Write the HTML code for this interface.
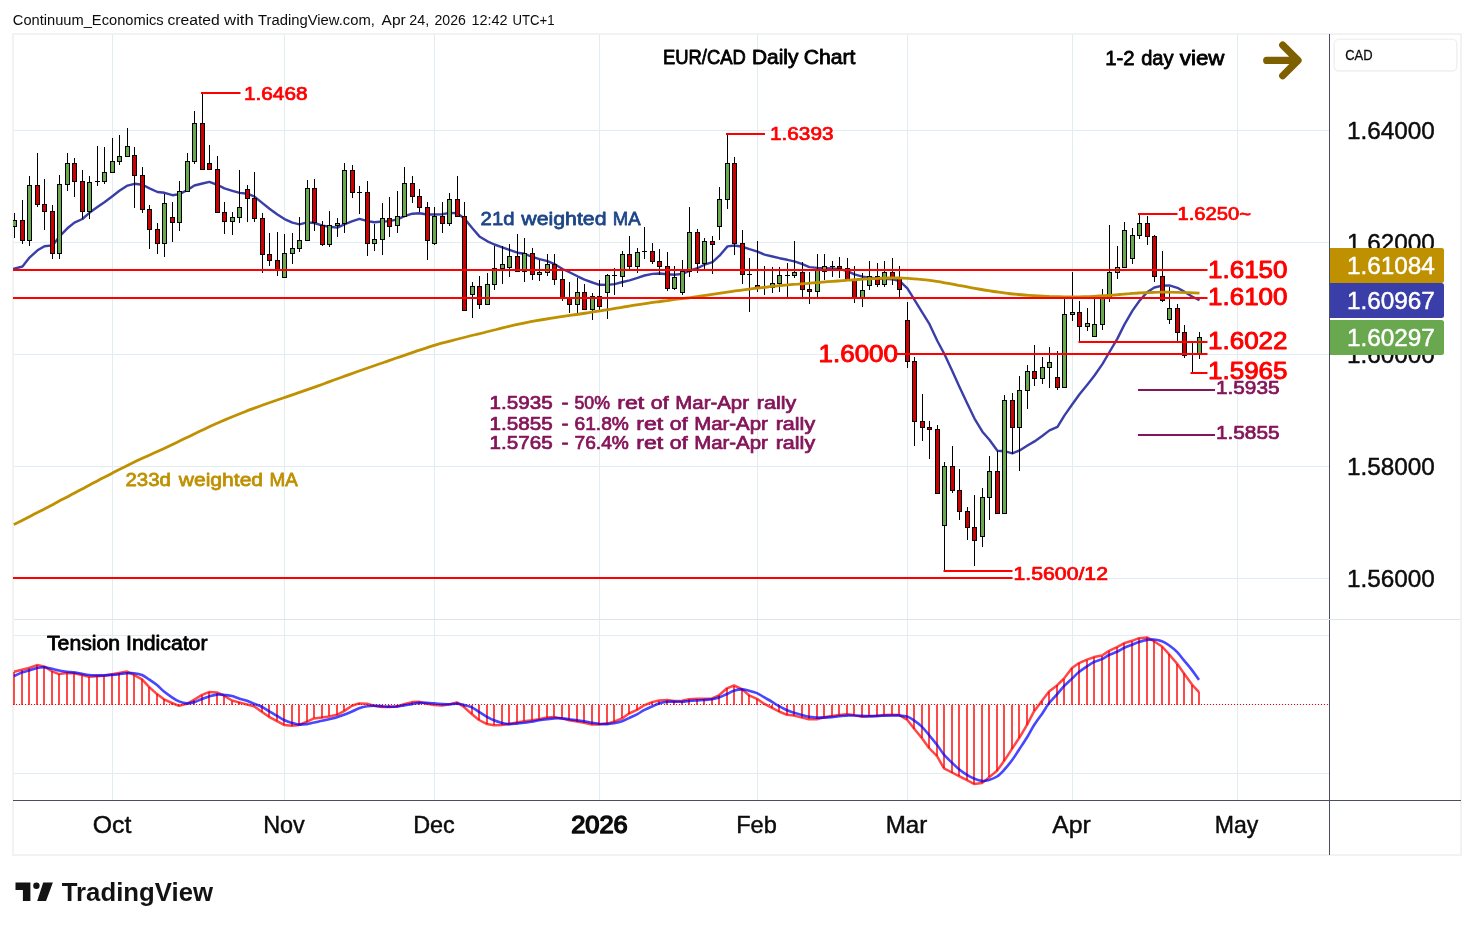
<!DOCTYPE html>
<html lang="en"><head><meta charset="utf-8"><title>EUR/CAD Daily Chart</title>
<style>html,body{margin:0;padding:0;background:#fff}body{width:1474px;height:930px;overflow:hidden}svg{display:block}text{font-family:'Liberation Sans', Arial, sans-serif}</style>
</head><body>
<svg width="1474" height="930" viewBox="0 0 1474 930">
<rect width="1474" height="930" fill="#fff"/>
<text y="24.6" font-size="14.9" fill="#0c0c0c"><tspan x="12.8" textLength="150.8" lengthAdjust="spacingAndGlyphs">Continuum_Economics</tspan> <tspan x="167.5" textLength="52.3" lengthAdjust="spacingAndGlyphs">created</tspan> <tspan x="224.1" textLength="29.7" lengthAdjust="spacingAndGlyphs">with</tspan> <tspan x="258.1" textLength="116.8" lengthAdjust="spacingAndGlyphs">TradingView.com,</tspan> <tspan x="381.6" textLength="24.2" lengthAdjust="spacingAndGlyphs">Apr</tspan> <tspan x="409.3" textLength="19.9" lengthAdjust="spacingAndGlyphs">24,</tspan> <tspan x="434.5" textLength="31.4" lengthAdjust="spacingAndGlyphs">2026</tspan> <tspan x="471.4" textLength="36.2" lengthAdjust="spacingAndGlyphs">12:42</tspan> <tspan x="512.5" textLength="42.1" lengthAdjust="spacingAndGlyphs">UTC+1</tspan></text>
<g fill="none" stroke="#f2f2f3" stroke-width="2">
<rect x="13" y="34" width="1448" height="821"/>
</g>
<g stroke="#e1ecf3" stroke-width="1" shape-rendering="crispEdges">
<line x1="112.5" y1="35" x2="112.5" y2="619"/>
<line x1="112.5" y1="620" x2="112.5" y2="800"/>
<line x1="284.5" y1="35" x2="284.5" y2="619"/>
<line x1="284.5" y1="620" x2="284.5" y2="800"/>
<line x1="434.5" y1="35" x2="434.5" y2="619"/>
<line x1="434.5" y1="620" x2="434.5" y2="800"/>
<line x1="599.5" y1="35" x2="599.5" y2="619"/>
<line x1="599.5" y1="620" x2="599.5" y2="800"/>
<line x1="757.5" y1="35" x2="757.5" y2="619"/>
<line x1="757.5" y1="620" x2="757.5" y2="800"/>
<line x1="907.5" y1="35" x2="907.5" y2="619"/>
<line x1="907.5" y1="620" x2="907.5" y2="800"/>
<line x1="1072.5" y1="35" x2="1072.5" y2="619"/>
<line x1="1072.5" y1="620" x2="1072.5" y2="800"/>
<line x1="1237.5" y1="35" x2="1237.5" y2="619"/>
<line x1="1237.5" y1="620" x2="1237.5" y2="800"/>
<line x1="14" y1="130.5" x2="1329" y2="130.5"/>
<line x1="14" y1="242.5" x2="1329" y2="242.5"/>
<line x1="14" y1="354.5" x2="1329" y2="354.5"/>
<line x1="14" y1="466.5" x2="1329" y2="466.5"/>
<line x1="14" y1="578.5" x2="1329" y2="578.5"/>
<line x1="14" y1="635.5" x2="1329" y2="635.5"/>
<line x1="14" y1="773.5" x2="1329" y2="773.5"/>
</g>
<defs><clipPath id="cp"><rect x="13" y="35" width="1316" height="765"/></clipPath></defs>
<g clip-path="url(#cp)">
<path d="M12.9 269 L22.5 266.5 L29.5 257.6 L37.5 250.3 L44.5 246.2 L52.5 245.4 L59.5 236.4 L67.4 228.3 L74.4 222.6 L82.4 219 L89.4 212.8 L97.4 207.1 L104.4 202.2 L112.4 196.2 L119.4 190.8 L127.5 185.6 L134.5 183.8 L142.5 184.8 L149.5 188.4 L157.5 192 L164.5 192.8 L172.5 195.2 L179.5 194.1 L187.4 190 L194.4 185.5 L202.4 183.5 L209.4 181.9 L217.4 184.8 L224.4 188.4 L232.4 190.8 L239.7 192.9 L247.5 193.7 L254.5 196.6 L262.5 203.1 L269.5 208.8 L277.4 214.5 L284.5 219.1 L292.4 222.7 L299.4 224.3 L307.4 222.4 L314.4 223 L322.6 225.6 L329.4 226.8 L337.4 227.6 L344.4 224.3 L352.5 221.1 L359.5 218.9 L367.5 221.1 L374.5 222.2 L382.5 221.5 L389.5 221.1 L397.4 219.4 L404.5 216.2 L412.4 213.7 L419.4 213.2 L427.4 214.5 L434.4 214.5 L442.4 214.2 L449.4 212.9 L457.4 213.2 L464.4 218.6 L472.4 228.3 L479.4 236.4 L487.4 241.3 L494.4 244.5 L502.4 247.3 L509.4 249.9 L517.4 252.7 L524.4 253.8 L532.4 256.8 L539.5 259.2 L547.5 261.2 L554.5 264.1 L562.5 269 L569.5 272.2 L577.5 276.3 L584.5 279.6 L592.4 282.5 L599.4 284.8 L607.6 284.9 L614.6 284.1 L622.6 282 L629.6 280.4 L637.5 277.9 L644.5 275.5 L652.5 273.9 L659.5 273.5 L667.5 274.3 L674.5 274.7 L682.5 273.9 L689.5 270.6 L697.5 268.2 L704.4 264.7 L712.5 262.2 L719.5 255.7 L727.5 246.4 L734.5 245.5 L742.5 246.8 L749.5 249.2 L757.5 251.6 L764.5 254.6 L772.5 256.5 L779.5 258.2 L787.4 259.8 L794.4 261.4 L802.4 264.2 L809.4 267.1 L817.4 267.9 L824.6 268.2 L832.5 268.4 L839.5 269.1 L847.5 271.2 L854.5 274.4 L862.5 276.6 L869.5 277.7 L877.5 278.5 L884.5 278.8 L892.5 279.3 L899.5 280.9 L907.4 288.3 L914.5 299.8 L922.5 312.8 L929.5 324.2 L937.5 341.3 L944.5 354.3 L952.5 371.4 L959.5 386.9 L967.5 404 L974.5 418.6 L982.4 431.7 L989.4 439.8 L997.4 450.8 L1004.4 451.2 L1012.4 453.3 L1019.6 450.4 L1027.5 445.5 L1034.5 441.4 L1042.5 435.7 L1049.5 430.4 L1057.5 426.8 L1064.5 415.4 L1072.5 404 L1079.5 394.2 L1087.5 384.4 L1094.5 375.5 L1102.4 364.1 L1109.5 352 L1117.4 338.6 L1124.5 324.4 L1132.5 310.6 L1139.5 300.8 L1147.4 291.9 L1154.4 287.5 L1162.4 285.7 L1169.4 285.4 L1177.4 287.8 L1184.6 291.9 L1192.5 296.8 L1199.5 300.3" fill="none" stroke="#3a3ea8" stroke-width="2.4" stroke-linejoin="round" stroke-linecap="butt"/>
<path d="M14.5 213V238M22.5 200V244M29.5 176V246M37.5 153V207M44.5 179V230M52.5 205V259M59.5 175V259M67.5 153V191M74.5 158V197M82.5 170V219M89.5 176V219M97.5 146V186M104.5 147V184M112.5 138V173M119.5 135V165M127.5 128V157M134.5 147V208M142.5 167V213M149.5 205V249M157.5 223V254M164.5 194V257M172.5 202V242M179.5 181V231M187.5 153V192M194.5 111V164M202.5 93V170M209.5 145V170M217.5 156V213M224.5 202V234M232.5 212V235M239.5 170V223M247.5 185V222M254.5 172V222M262.5 213V273M269.5 233V266M277.5 232V276M284.5 234V278M292.5 233V264M299.5 217V252M307.5 180V241M314.5 179V231M322.5 221V246M329.5 211V247M337.5 218V237M344.5 163V233M352.5 165V198M359.5 186V214M367.5 181V256M374.5 224V251M382.5 203V255M389.5 197V237M397.5 191V233M404.5 167V217M412.5 176V203M419.5 189V212M427.5 202V260M434.5 207V245M442.5 202V233M449.5 193V226M457.5 176V217M464.5 202V311M472.5 282V318M479.5 276V309M487.5 273V305M494.5 246V290M502.5 246V284M509.5 244V277M517.5 234V272M524.5 238V282M532.5 248V280M539.5 260V281M547.5 254V276M554.5 254V285M562.5 270V301M569.5 282V313M577.5 278V314M584.5 284V310M592.5 293V320M599.5 280V311M607.5 274V319M614.5 268V295M622.5 251V287M629.5 236V271M637.5 248V273M644.5 227V259M652.5 243V264M659.5 249V275M667.5 252V291M674.5 266V290M682.5 260V295M689.5 207V277M697.5 229V273M704.5 238V269M712.5 236V274M719.5 187V240M727.5 134V209M734.5 157V255M742.5 230V284M749.5 258V312M757.5 241V292M764.5 266V295M772.5 267V293M779.5 267V292M787.5 263V298M794.5 241V278M802.5 262V298M809.5 272V304M817.5 254V298M824.5 254V280M832.5 261V277M839.5 257V278M847.5 258V280M854.5 266V303M862.5 273V307M869.5 261V290M877.5 263V287M884.5 261V287M892.5 258V285M899.5 266V298M907.5 302V368M914.5 357V446M922.5 394V441M929.5 421V459M937.5 425V494M944.5 462V570M952.5 446V493M959.5 469V520M967.5 507V540M974.5 495V566M982.5 488V547M989.5 456V520M997.5 451V514M1004.5 395V514M1012.5 393V454M1019.5 376V471M1027.5 365V409M1034.5 345V386M1042.5 357V384M1049.5 347V388M1057.5 351V390M1064.5 299V388M1072.5 272V321M1079.5 301V341M1087.5 308V331M1094.5 299V337M1102.5 289V330M1109.5 225V302M1117.5 246V279M1124.5 222V268M1132.5 228V264M1139.5 214V239M1147.5 216V245M1154.5 235V282M1162.5 251V302M1169.5 287V324M1177.5 304V341M1184.5 325V358M1192.5 342V372M1199.5 332V359" stroke="#000" stroke-width="1" fill="none" shape-rendering="crispEdges"/>
<g fill="#6aa84f" stroke="#000" stroke-width="1" shape-rendering="crispEdges">
<rect x="12.5" y="220.5" width="4" height="6"/>
<rect x="27.5" y="185.5" width="4" height="55"/>
<rect x="57.5" y="184.5" width="4" height="69"/>
<rect x="65.5" y="163.5" width="4" height="21"/>
<rect x="87.5" y="182.5" width="4" height="29"/>
<rect x="102.5" y="172.5" width="4" height="9"/>
<rect x="110.5" y="161.5" width="4" height="11"/>
<rect x="117.5" y="156.5" width="4" height="5"/>
<rect x="125.5" y="146.5" width="4" height="10"/>
<rect x="162.5" y="203.5" width="4" height="40"/>
<rect x="177.5" y="191.5" width="4" height="31"/>
<rect x="185.5" y="161.5" width="4" height="30"/>
<rect x="192.5" y="123.5" width="4" height="38"/>
<rect x="230.5" y="217.5" width="4" height="4"/>
<rect x="237.5" y="207.5" width="4" height="10"/>
<rect x="282.5" y="253.5" width="4" height="24"/>
<rect x="290.5" y="248.5" width="4" height="5"/>
<rect x="297.5" y="240.5" width="4" height="8"/>
<rect x="305.5" y="188.5" width="4" height="52"/>
<rect x="327.5" y="225.5" width="4" height="19"/>
<rect x="335.5" y="223.5" width="4" height="2"/>
<rect x="342.5" y="170.5" width="4" height="53"/>
<rect x="372.5" y="239.5" width="4" height="4"/>
<rect x="380.5" y="218.5" width="4" height="21"/>
<rect x="395.5" y="216.5" width="4" height="9"/>
<rect x="402.5" y="183.5" width="4" height="33"/>
<rect x="432.5" y="216.5" width="4" height="27"/>
<rect x="447.5" y="199.5" width="4" height="24"/>
<rect x="470.5" y="286.5" width="4" height="8"/>
<rect x="485.5" y="284.5" width="4" height="20"/>
<rect x="492.5" y="268.5" width="4" height="16"/>
<rect x="500.5" y="264.5" width="4" height="4"/>
<rect x="507.5" y="256.5" width="4" height="11"/>
<rect x="522.5" y="253.5" width="4" height="18"/>
<rect x="537.5" y="272.5" width="4" height="2"/>
<rect x="545.5" y="264.5" width="4" height="8"/>
<rect x="575.5" y="292.5" width="4" height="12"/>
<rect x="590.5" y="296.5" width="4" height="13"/>
<rect x="605.5" y="275.5" width="4" height="17"/>
<rect x="620.5" y="254.5" width="4" height="22"/>
<rect x="635.5" y="252.5" width="4" height="14"/>
<rect x="672.5" y="277.5" width="4" height="11"/>
<rect x="680.5" y="271.5" width="4" height="21"/>
<rect x="687.5" y="232.5" width="4" height="39"/>
<rect x="702.5" y="241.5" width="4" height="22"/>
<rect x="717.5" y="199.5" width="4" height="27"/>
<rect x="725.5" y="163.5" width="4" height="36"/>
<rect x="770.5" y="283.5" width="4" height="4"/>
<rect x="777.5" y="275.5" width="4" height="8"/>
<rect x="792.5" y="272.5" width="4" height="3"/>
<rect x="815.5" y="270.5" width="4" height="21"/>
<rect x="822.5" y="266.5" width="4" height="5"/>
<rect x="860.5" y="290.5" width="4" height="7"/>
<rect x="867.5" y="276.5" width="4" height="9"/>
<rect x="882.5" y="272.5" width="4" height="12"/>
<rect x="942.5" y="466.5" width="4" height="59"/>
<rect x="980.5" y="497.5" width="4" height="39"/>
<rect x="987.5" y="471.5" width="4" height="26"/>
<rect x="1002.5" y="400.5" width="4" height="113"/>
<rect x="1017.5" y="390.5" width="4" height="37"/>
<rect x="1025.5" y="371.5" width="4" height="19"/>
<rect x="1040.5" y="367.5" width="4" height="11"/>
<rect x="1047.5" y="362.5" width="4" height="5"/>
<rect x="1062.5" y="314.5" width="4" height="73"/>
<rect x="1070.5" y="312.5" width="4" height="2"/>
<rect x="1085.5" y="323.5" width="4" height="3"/>
<rect x="1092.5" y="324.5" width="4" height="12"/>
<rect x="1100.5" y="297.5" width="4" height="27"/>
<rect x="1107.5" y="272.5" width="4" height="25"/>
<rect x="1115.5" y="267.5" width="4" height="5"/>
<rect x="1122.5" y="230.5" width="4" height="37"/>
<rect x="1130.5" y="235.5" width="4" height="23"/>
<rect x="1137.5" y="223.5" width="4" height="12"/>
<rect x="1167.5" y="308.5" width="4" height="11"/>
<rect x="1197.5" y="337.5" width="4" height="16"/>
</g>
<g fill="#cc0000" stroke="#000" stroke-width="1" shape-rendering="crispEdges">
<rect x="20.5" y="220.5" width="4" height="20"/>
<rect x="35.5" y="185.5" width="4" height="19"/>
<rect x="42.5" y="204.5" width="4" height="7"/>
<rect x="50.5" y="211.5" width="4" height="42"/>
<rect x="72.5" y="163.5" width="4" height="18"/>
<rect x="80.5" y="181.5" width="4" height="30"/>
<rect x="132.5" y="155.5" width="4" height="20"/>
<rect x="140.5" y="175.5" width="4" height="34"/>
<rect x="147.5" y="209.5" width="4" height="20"/>
<rect x="155.5" y="229.5" width="4" height="14"/>
<rect x="170.5" y="217.5" width="4" height="5"/>
<rect x="200.5" y="123.5" width="4" height="46"/>
<rect x="207.5" y="163.5" width="4" height="6"/>
<rect x="215.5" y="169.5" width="4" height="43"/>
<rect x="222.5" y="212.5" width="4" height="9"/>
<rect x="245.5" y="189.5" width="4" height="9"/>
<rect x="252.5" y="198.5" width="4" height="20"/>
<rect x="260.5" y="218.5" width="4" height="36"/>
<rect x="267.5" y="254.5" width="4" height="6"/>
<rect x="275.5" y="260.5" width="4" height="9"/>
<rect x="312.5" y="188.5" width="4" height="34"/>
<rect x="320.5" y="225.5" width="4" height="19"/>
<rect x="350.5" y="170.5" width="4" height="22"/>
<rect x="365.5" y="192.5" width="4" height="51"/>
<rect x="387.5" y="218.5" width="4" height="8"/>
<rect x="410.5" y="183.5" width="4" height="13"/>
<rect x="417.5" y="196.5" width="4" height="11"/>
<rect x="425.5" y="207.5" width="4" height="33"/>
<rect x="440.5" y="216.5" width="4" height="7"/>
<rect x="455.5" y="199.5" width="4" height="17"/>
<rect x="462.5" y="216.5" width="4" height="94"/>
<rect x="477.5" y="286.5" width="4" height="18"/>
<rect x="515.5" y="256.5" width="4" height="15"/>
<rect x="530.5" y="253.5" width="4" height="21"/>
<rect x="552.5" y="264.5" width="4" height="15"/>
<rect x="560.5" y="279.5" width="4" height="18"/>
<rect x="567.5" y="297.5" width="4" height="7"/>
<rect x="582.5" y="292.5" width="4" height="17"/>
<rect x="597.5" y="296.5" width="4" height="10"/>
<rect x="627.5" y="254.5" width="4" height="12"/>
<rect x="650.5" y="251.5" width="4" height="10"/>
<rect x="657.5" y="261.5" width="4" height="5"/>
<rect x="665.5" y="266.5" width="4" height="22"/>
<rect x="695.5" y="232.5" width="4" height="31"/>
<rect x="710.5" y="241.5" width="4" height="3"/>
<rect x="732.5" y="163.5" width="4" height="80"/>
<rect x="740.5" y="243.5" width="4" height="31"/>
<rect x="755.5" y="285.5" width="4" height="2"/>
<rect x="800.5" y="272.5" width="4" height="17"/>
<rect x="807.5" y="289.5" width="4" height="2"/>
<rect x="837.5" y="266.5" width="4" height="2"/>
<rect x="845.5" y="268.5" width="4" height="11"/>
<rect x="852.5" y="279.5" width="4" height="18"/>
<rect x="875.5" y="276.5" width="4" height="8"/>
<rect x="890.5" y="272.5" width="4" height="5"/>
<rect x="897.5" y="277.5" width="4" height="12"/>
<rect x="905.5" y="320.5" width="4" height="41"/>
<rect x="912.5" y="361.5" width="4" height="60"/>
<rect x="920.5" y="421.5" width="4" height="6"/>
<rect x="927.5" y="427.5" width="4" height="2"/>
<rect x="935.5" y="429.5" width="4" height="64"/>
<rect x="950.5" y="466.5" width="4" height="24"/>
<rect x="957.5" y="490.5" width="4" height="21"/>
<rect x="965.5" y="511.5" width="4" height="16"/>
<rect x="972.5" y="527.5" width="4" height="13"/>
<rect x="995.5" y="471.5" width="4" height="42"/>
<rect x="1010.5" y="400.5" width="4" height="27"/>
<rect x="1032.5" y="371.5" width="4" height="7"/>
<rect x="1055.5" y="377.5" width="4" height="10"/>
<rect x="1077.5" y="312.5" width="4" height="14"/>
<rect x="1145.5" y="223.5" width="4" height="13"/>
<rect x="1152.5" y="236.5" width="4" height="40"/>
<rect x="1160.5" y="276.5" width="4" height="24"/>
<rect x="1175.5" y="308.5" width="4" height="24"/>
<rect x="1182.5" y="332.5" width="4" height="23"/>
</g>
<path d="M95 181.5H100M357 192.5H362M612 275.5H617M642 251.5H647M747 274.5H752M762 287.5H767M785 275.5H790M830 266.5H835M1190 354.5H1195" stroke="#000" stroke-width="1" fill="none" shape-rendering="crispEdges"/>
<path d="M13.8 524.6C15.5 523.7 20.5 521.2 23.9 519.5C27.2 517.8 30.6 516.1 33.9 514.3C37.3 512.6 40.6 510.9 44 509.2C47.3 507.4 50.7 505.6 54 503.9C57.4 502.1 60.7 500.3 64.1 498.6C67.4 496.8 70.8 495.1 74.1 493.3C77.5 491.5 80.8 489.7 84.2 487.9C87.5 486.1 90.9 484.4 94.2 482.6C97.6 480.8 100.9 479 104.3 477.3C107.6 475.5 111 473.8 114.3 472.1C117.7 470.3 121 468.6 124.4 467C127.7 465.3 131.1 463.7 134.4 462C137.8 460.4 141.1 458.8 144.5 457.3C147.8 455.7 151.2 454.3 154.5 452.8C157.9 451.3 161.2 449.8 164.6 448.2C167.9 446.7 171.3 445.1 174.6 443.5C178 441.9 181.3 440.2 184.7 438.6C188 437 191.4 435.3 194.7 433.7C198.1 432.1 201.4 430.5 204.8 428.9C208.1 427.4 211.5 425.8 214.8 424.3C218.2 422.8 221.5 421.3 224.9 419.9C228.2 418.5 231.6 417.1 234.9 415.7C238.3 414.3 241.6 413 245 411.7C248.3 410.4 251.6 409.1 255 407.9C258.3 406.6 261.7 405.4 265 404.2C268.4 403 271.7 401.9 275.1 400.7C278.4 399.6 281.8 398.5 285.1 397.3C288.5 396.2 291.8 395 295.2 393.9C298.5 392.7 301.9 391.6 305.2 390.4C308.6 389.2 311.9 388.1 315.3 386.9C318.6 385.7 322 384.5 325.3 383.2C328.7 382 332 380.7 335.4 379.5C338.7 378.3 342.1 377.1 345.4 375.9C348.8 374.7 352.1 373.5 355.5 372.3C358.8 371.1 362.2 369.9 365.5 368.7C368.9 367.5 372.2 366.4 375.6 365.2C378.9 364.1 382.3 363 385.6 361.8C389 360.7 392.3 359.5 395.7 358.3C399 357.2 402.4 356 405.7 354.9C409.1 353.7 412.4 352.6 415.8 351.4C419.1 350.3 422.5 349.1 425.8 348.1C429.2 347 432.5 345.9 435.9 344.9C439.2 343.9 442.6 343 445.9 342.2C449.3 341.3 452.6 340.4 456 339.5C459.3 338.7 462.7 337.8 466 337C469.4 336.1 472.7 335.3 476.1 334.5C479.4 333.7 482.8 332.9 486.1 332C489.5 331.2 492.8 330.3 496.2 329.5C499.5 328.6 502.9 327.8 506.2 327C509.6 326.2 512.9 325.4 516.3 324.7C519.6 324 523 323.3 526.3 322.6C529.7 321.9 533 321.3 536.4 320.7C539.7 320.1 543.1 319.5 546.4 319C549.7 318.4 553.1 317.9 556.4 317.4C559.8 316.9 563.1 316.4 566.5 315.9C569.8 315.4 573.2 315 576.5 314.5C579.9 314 583.2 313.5 586.6 313C589.9 312.5 593.3 312 596.6 311.4C600 310.9 603.3 310.3 606.7 309.8C610 309.3 613.4 308.7 616.7 308.1C620.1 307.6 623.4 307 626.8 306.5C630.1 305.9 633.5 305.4 636.8 304.8C640.2 304.3 643.5 303.8 646.9 303.3C650.2 302.9 653.6 302.4 656.9 301.9C660.3 301.5 663.6 301 667 300.6C670.3 300.1 673.7 299.7 677 299.2C680.4 298.8 683.7 298.4 687.1 298C690.4 297.5 693.8 297.1 697.1 296.6C700.5 296.2 703.8 295.6 707.2 295.1C710.5 294.6 713.9 294.1 717.2 293.6C720.6 293.1 723.9 292.6 727.3 292.1C730.6 291.6 734 291.2 737.3 290.7C740.7 290.2 744 289.7 747.4 289.3C750.7 288.9 754.1 288.5 757.4 288.1C760.8 287.7 764.1 287.3 767.5 287C770.8 286.6 774.2 286.3 777.5 285.9C780.9 285.6 784.2 285.2 787.6 284.9C790.9 284.6 794.3 284.3 797.6 284.1C801 283.8 804.3 283.5 807.7 283.3C811 283 814.4 282.8 817.7 282.5C821.1 282.2 824.4 282 827.8 281.7C831.1 281.5 834.5 281.2 837.8 281C841.1 280.7 844.5 280.5 847.8 280.2C851.2 280 854.5 279.7 857.9 279.5C861.2 279.3 864.6 279.1 867.9 278.9C871.3 278.7 874.6 278.5 878 278.4C881.3 278.2 884.7 278.1 888 278C891.4 278 894.7 277.9 898.1 278C901.4 278.1 904.8 278.2 908.1 278.3C911.5 278.5 914.8 278.7 918.2 279.1C921.5 279.4 924.9 279.8 928.2 280.2C931.6 280.7 934.9 281.2 938.3 281.7C941.6 282.3 945 282.8 948.3 283.4C951.7 284 955 284.6 958.4 285.3C961.7 285.9 965.1 286.5 968.4 287.1C971.8 287.7 975.1 288.4 978.5 289C981.8 289.6 985.2 290.2 988.5 290.7C991.9 291.2 995.2 291.8 998.6 292.2C1001.9 292.7 1005.3 293.1 1008.6 293.5C1012 293.9 1015.3 294.2 1018.7 294.5C1022 294.8 1025.4 295.1 1028.7 295.3C1032.1 295.5 1035.4 295.7 1038.8 295.9C1042.1 296.1 1045.5 296.2 1048.8 296.4C1052.2 296.5 1055.5 296.6 1058.9 296.7C1062.2 296.8 1065.6 296.8 1068.9 296.9C1072.3 296.9 1075.6 296.9 1079 296.9C1082.3 296.8 1085.7 296.7 1089 296.6C1092.4 296.4 1095.7 296.2 1099.1 296C1102.4 295.8 1105.8 295.6 1109.1 295.3C1112.5 295.1 1115.8 294.8 1119.2 294.5C1122.5 294.3 1125.9 293.9 1129.2 293.7C1132.6 293.4 1135.9 293.2 1139.2 293C1142.6 292.8 1145.9 292.6 1149.3 292.5C1152.6 292.3 1156 292.2 1159.3 292.2C1162.7 292.1 1166 292.1 1169.4 292.2C1172.7 292.2 1176.1 292.3 1179.4 292.4C1182.8 292.4 1186.1 292.5 1189.5 292.6C1192.8 292.8 1197.9 293.1 1199.5 293.2" fill="none" stroke="#bf9000" stroke-width="2.8" stroke-linejoin="round" stroke-linecap="butt"/>
<g stroke="#ff0000" stroke-width="2" fill="none">
<line x1="13" y1="270" x2="1207.5" y2="270"/>
<line x1="13" y1="298" x2="1207.5" y2="298"/>
<line x1="897" y1="354" x2="1207.5" y2="354"/>
<line x1="1078.5" y1="342" x2="1207.5" y2="342"/>
<line x1="1190.5" y1="373" x2="1207.5" y2="373"/>
<line x1="13" y1="578" x2="1012.5" y2="578"/>
<line x1="943.5" y1="571" x2="1012.5" y2="571"/>
<line x1="201" y1="93" x2="240.5" y2="93"/>
<line x1="726" y1="134" x2="765" y2="134"/>
<line x1="1138" y1="214" x2="1177.5" y2="214"/>
</g>
<g stroke="#85155a" stroke-width="2" fill="none">
<line x1="1138" y1="390" x2="1215" y2="390"/>
<line x1="1138" y1="435" x2="1215" y2="435"/>
</g>
<line x1="13" y1="704.5" x2="1329" y2="704.5" stroke="#e0f3f8" stroke-width="1" shape-rendering="crispEdges"/>
<path d="M14 705V671.8M22 705V669.7M29 705V668M37 705V665.1M44 705V666.4M52 705V671.3M59 705V674.1M67 705V672.9M74 705V673.2M82 705V675M89 705V676.7M97 705V676.2M104 705V675.7M112 705V674.2M119 705V672.9M127 705V671.6M134 705V674.9M142 705V679.4M149 705V686.8M157 705V694.1M164 705V699.3M172 705V703M179 705V705.8M187 705V703.9M194 705V699.8M202 705V694.9M209 705V692.1M217 705V692.5M224 705V695.7M232 705V700.5M239 705V702.4M247 705V704.5M254 705V706.2M262 705V711.9M269 705V716.8M277 705V721.2M284 705V724.9M292 705V725.7M299 705V724.9M307 705V721.6M314 705V718.4M322 705V717.6M329 705V716.4M337 705V714.8M344 705V711.1M352 705V705.7M359 705V703.4M367 705V703.7M374 705V705.7M382 705V707M389 705V707M397 705V706.5M404 705V704.2M412 705V702.1M419 705V701.8M427 705V703.7M434 705V705M442 705V705.4M449 705V704.5M457 705V702.4M464 705V707M472 705V714.3M479 705V720M487 705V724.1M494 705V725.2M502 705V724.9M509 705V724.1M517 705V722.5M524 705V721.3M532 705V720.3M539 705V719.2M547 705V717.6M554 705V717.1M562 705V718.4M569 705V720.3M577 705V721.6M584 705V722.8M592 705V724.6M599 705V724.6M607 705V723.6M614 705V721.6M622 705V718.4M629 705V713.5M637 705V709.9M644 705V705.4M652 705V702.1M659 705V700.5M667 705V700.1M674 705V701M682 705V700.8M689 705V699.2M697 705V698.8M704 705V698.8M712 705V698.5M719 705V695.3M727 705V688.3M734 705V685.5M742 705V689.1M749 705V695.3M757 705V698.8M764 705V703.7M772 705V707.8M779 705V711.5M787 705V714.8M794 705V715.6M802 705V717.6M809 705V719.2M817 705V719.2M824 705V717.2M832 705V715.9M839 705V715.1M847 705V714.3M854 705V715.1M862 705V716.8M869 705V716.3M877 705V715.9M884 705V715.1M892 705V714.7M899 705V715M907 705V719.6M914 705V728.5M922 705V738.3M929 705V748M937 705V756.2M944 705V768.4M952 705V772.5M959 705V776.1M967 705V780.1M974 705V784M982 705V783.1M989 705V777.4M997 705V770.8M1004 705V761.1M1012 705V748.9M1019 705V738.3M1027 705V724.9M1034 705V711.4M1042 705V700.8M1049 705V691.5M1057 705V685.4M1064 705V678.5M1072 705V668M1079 705V663.1M1087 705V659.6M1094 705V657.1M1102 705V655.5M1109 705V650.9M1117 705V647.2M1124 705V643.3M1132 705V640.8M1139 705V638.2M1147 705V637.4M1154 705V641.2M1162 705V646.5M1169 705V654.2M1177 705V663.6M1184 705V673.4M1192 705V684.6M1199 705V692.1" stroke="#ff4a4a" stroke-width="2" fill="none" shape-rendering="crispEdges"/>
<line x1="13" y1="704.5" x2="1329" y2="704.5" stroke="#ff0000" stroke-width="1" stroke-dasharray="1 2" shape-rendering="crispEdges"/>
<path d="M14 671.8 L22 669.7 L29 668 L37 665.1 L44 666.4 L52 671.3 L59 674.1 L67 672.9 L74 673.2 L82 675 L89 676.7 L97 676.2 L104 675.7 L112 674.2 L119 672.9 L127 671.6 L134 674.9 L142 679.4 L149 686.8 L157 694.1 L164 699.3 L172 703 L179 705.8 L187 703.9 L194 699.8 L202 694.9 L209 692.1 L217 692.5 L224 695.7 L232 700.5 L239 702.4 L247 704.5 L254 706.2 L262 711.9 L269 716.8 L277 721.2 L284 724.9 L292 725.7 L299 724.9 L307 721.6 L314 718.4 L322 717.6 L329 716.4 L337 714.8 L344 711.1 L352 705.7 L359 703.4 L367 703.7 L374 705.7 L382 707 L389 707 L397 706.5 L404 704.2 L412 702.1 L419 701.8 L427 703.7 L434 705 L442 705.4 L449 704.5 L457 702.4 L464 707 L472 714.3 L479 720 L487 724.1 L494 725.2 L502 724.9 L509 724.1 L517 722.5 L524 721.3 L532 720.3 L539 719.2 L547 717.6 L554 717.1 L562 718.4 L569 720.3 L577 721.6 L584 722.8 L592 724.6 L599 724.6 L607 723.6 L614 721.6 L622 718.4 L629 713.5 L637 709.9 L644 705.4 L652 702.1 L659 700.5 L667 700.1 L674 701 L682 700.8 L689 699.2 L697 698.8 L704 698.8 L712 698.5 L719 695.3 L727 688.3 L734 685.5 L742 689.1 L749 695.3 L757 698.8 L764 703.7 L772 707.8 L779 711.5 L787 714.8 L794 715.6 L802 717.6 L809 719.2 L817 719.2 L824 717.2 L832 715.9 L839 715.1 L847 714.3 L854 715.1 L862 716.8 L869 716.3 L877 715.9 L884 715.1 L892 714.7 L899 715 L907 719.6 L914 728.5 L922 738.3 L929 748 L937 756.2 L944 768.4 L952 772.5 L959 776.1 L967 780.1 L974 784 L982 783.1 L989 777.4 L997 770.8 L1004 761.1 L1012 748.9 L1019 738.3 L1027 724.9 L1034 711.4 L1042 700.8 L1049 691.5 L1057 685.4 L1064 678.5 L1072 668 L1079 663.1 L1087 659.6 L1094 657.1 L1102 655.5 L1109 650.9 L1117 647.2 L1124 643.3 L1132 640.8 L1139 638.2 L1147 637.4 L1154 641.2 L1162 646.5 L1169 654.2 L1177 663.6 L1184 673.4 L1192 684.6 L1199 692.1" fill="none" stroke="#ff0000" stroke-width="2.5" stroke-linejoin="round" stroke-linecap="butt" stroke-opacity="0.72"/>
<path d="M14 676.2C15.3 675.5 19.5 673.4 22 672.4C24.5 671.5 26.5 671.2 29 670.5C31.5 669.7 34.5 668.6 37 668C39.5 667.5 41.5 667.1 44 667.2C46.5 667.4 49.5 668.3 52 668.8C54.5 669.4 56.5 670 59 670.5C61.5 671 64.5 671.5 67 671.8C69.5 672.1 71.5 672.1 74 672.4C76.5 672.8 79.5 673.3 82 673.7C84.5 674.2 86.5 674.8 89 675C91.5 675.3 94.5 675.3 97 675.4C99.5 675.4 101.5 675.4 104 675.4C106.5 675.3 109.5 675.1 112 674.9C114.5 674.7 116.5 674.5 119 674.2C121.5 673.9 124.5 673.4 127 673.2C129.5 673.1 131.5 672.9 134 673.2C136.5 673.5 139.5 674 142 675C144.5 676.1 146.5 677.7 149 679.4C151.5 681.1 154.5 683.1 157 685.1C159.5 687.2 161.5 689.6 164 691.6C166.5 693.7 169.5 695.7 172 697.3C174.5 699 176.5 700.4 179 701.4C181.5 702.4 184.5 703.2 187 703.4C189.5 703.5 191.5 703 194 702.2C196.5 701.5 199.5 699.9 202 699C204.5 698 206.5 697.3 209 696.5C211.5 695.8 214.5 694.8 217 694.6C219.5 694.3 221.5 694.6 224 694.9C226.5 695.1 229.5 695.5 232 696.1C234.5 696.7 236.5 697.7 239 698.5C241.5 699.3 244.5 699.9 247 700.8C249.5 701.7 251.5 702.7 254 703.7C256.5 704.8 259.5 705.8 262 707C264.5 708.2 266.5 709.6 269 711.1C271.5 712.6 274.5 714.5 277 715.9C279.5 717.4 281.5 718.8 284 720C286.5 721.2 289.5 722.2 292 722.9C294.5 723.7 296.5 724.4 299 724.6C301.5 724.8 304.5 724.4 307 724.1C309.5 723.7 311.5 723 314 722.5C316.5 721.9 319.5 721.4 322 720.8C324.5 720.3 326.5 719.8 329 719.2C331.5 718.6 334.5 718 337 717.2C339.5 716.5 341.5 715.8 344 714.8C346.5 713.9 349.5 712.6 352 711.5C354.5 710.5 356.5 709.2 359 708.3C361.5 707.4 364.5 706.6 367 706.2C369.5 705.7 371.5 705.7 374 705.7C376.5 705.7 379.5 706 382 706.2C384.5 706.3 386.5 706.6 389 706.7C391.5 706.7 394.5 706.7 397 706.5C399.5 706.3 401.5 705.8 404 705.4C406.5 705 409.5 704.5 412 704.1C414.5 703.6 416.5 703.1 419 702.9C421.5 702.7 424.5 702.8 427 702.9C429.5 703 431.5 703.2 434 703.4C436.5 703.6 439.5 703.9 442 704.1C444.5 704.2 446.5 704.3 449 704.2C451.5 704.2 454.5 703.6 457 703.7C459.5 703.8 461.5 704.3 464 704.9C466.5 705.5 469.5 706.1 472 707.3C474.5 708.5 476.5 710.3 479 711.9C481.5 713.4 484.5 715.3 487 716.8C489.5 718.2 491.5 719.3 494 720.3C496.5 721.4 499.5 722.3 502 722.9C504.5 723.6 506.5 724 509 724.1C511.5 724.2 514.5 723.8 517 723.6C519.5 723.4 521.5 723.1 524 722.8C526.5 722.5 529.5 722 532 721.6C534.5 721.2 536.5 720.7 539 720.3C541.5 719.9 544.5 719.5 547 719.2C549.5 718.9 551.5 718.5 554 718.4C556.5 718.2 559.5 718.2 562 718.4C564.5 718.5 566.5 718.9 569 719.2C571.5 719.5 574.5 720 577 720.3C579.5 720.7 581.5 720.9 584 721.3C586.5 721.7 589.5 722.4 592 722.8C594.5 723.2 596.5 723.5 599 723.8C601.5 724 604.5 724.2 607 724.1C609.5 724 611.5 723.7 614 723.3C616.5 722.8 619.5 722.2 622 721.3C624.5 720.4 626.5 719.2 629 718.1C631.5 716.9 634.5 715.6 637 714.3C639.5 713 641.5 711.5 644 710.2C646.5 708.9 649.5 707.6 652 706.5C654.5 705.4 656.5 704.2 659 703.4C661.5 702.6 664.5 702.1 667 701.8C669.5 701.5 671.5 701.6 674 701.6C676.5 701.6 679.5 701.9 682 701.8C684.5 701.7 686.5 701.2 689 701C691.5 700.7 694.5 700.6 697 700.5C699.5 700.3 701.5 700.2 704 700C706.5 699.8 709.5 699.7 712 699.3C714.5 698.9 716.5 698.4 719 697.5C721.5 696.6 724.5 695.1 727 694C729.5 692.8 731.5 691.5 734 690.7C736.5 689.9 739.5 689.4 742 689.4C744.5 689.4 746.5 690.1 749 690.7C751.5 691.3 754.5 692.1 757 693.1C759.5 694.2 761.5 695.8 764 697.2C766.5 698.7 769.5 700.3 772 701.8C774.5 703.3 776.5 704.8 779 706.2C781.5 707.6 784.5 709.2 787 710.2C789.5 711.3 791.5 711.9 794 712.7C796.5 713.5 799.5 714.5 802 715.1C804.5 715.8 806.5 716.4 809 716.8C811.5 717.2 814.5 717.4 817 717.6C819.5 717.7 821.5 717.7 824 717.6C826.5 717.5 829.5 717.3 832 717.1C834.5 716.9 836.5 716.5 839 716.3C841.5 716 844.5 715.8 847 715.6C849.5 715.5 851.5 715.4 854 715.5C856.5 715.5 859.5 715.8 862 715.9C864.5 716.1 866.5 716.1 869 716.1C871.5 716.1 874.5 716 877 715.9C879.5 715.9 881.5 715.7 884 715.6C886.5 715.5 889.5 715.5 892 715.5C894.5 715.5 896.5 715.3 899 715.5C901.5 715.7 904.5 715.8 907 716.6C909.5 717.4 911.5 718.7 914 720.4C916.5 722.1 919.5 724.4 922 726.9C924.5 729.3 926.5 732 929 735C931.5 738 934.5 741.5 937 744.8C939.5 748 941.5 751.6 944 754.6C946.5 757.5 949.5 760.3 952 762.7C954.5 765.1 956.5 767.2 959 769.2C961.5 771.2 964.5 773.4 967 774.9C969.5 776.5 971.5 777.5 974 778.5C976.5 779.5 979.5 780.7 982 780.9C984.5 781.2 986.5 780.7 989 780C991.5 779.2 994.5 778.2 997 776.5C999.5 774.9 1001.5 772.7 1004 770C1006.5 767.3 1009.5 763.6 1012 760.3C1014.5 756.9 1016.5 753.5 1019 749.7C1021.5 745.9 1024.5 741.5 1027 737.5C1029.5 733.4 1031.5 729.2 1034 725.3C1036.5 721.3 1039.5 717.5 1042 713.9C1044.5 710.2 1046.5 706.5 1049 703.3C1051.5 700 1054.5 697.2 1057 694.3C1059.5 691.5 1061.5 688.8 1064 686.2C1066.5 683.6 1069.5 681 1072 678.6C1074.5 676.3 1076.5 674.1 1079 672.1C1081.5 670.1 1084.5 668.1 1087 666.4C1089.5 664.7 1091.5 663.2 1094 662C1096.5 660.8 1099.5 660.2 1102 659.1C1104.5 657.9 1106.5 656.2 1109 655C1111.5 653.8 1114.5 652.9 1117 651.8C1119.5 650.6 1121.5 649.2 1124 648C1126.5 646.8 1129.5 645.8 1132 644.7C1134.5 643.7 1136.5 642.8 1139 642C1141.5 641.2 1144.5 640.3 1147 639.9C1149.5 639.5 1151.5 639.3 1154 639.5C1156.5 639.8 1159.5 640.2 1162 641.2C1164.5 642.1 1166.5 643.5 1169 645.2C1171.5 647 1174.5 649.2 1177 651.8C1179.5 654.3 1181.5 657.3 1184 660.4C1186.5 663.4 1189.5 666.9 1192 670.1C1194.5 673.4 1197.8 678.3 1199 679.9" fill="none" stroke="#0000ff" stroke-width="2.6" stroke-linejoin="round" stroke-linecap="butt" stroke-opacity="0.72"/>
</g>
<text y="64.3" font-size="20.2" fill="#000" stroke="#000" stroke-width="0.81" stroke-linejoin="round"><tspan x="662.9" textLength="83" lengthAdjust="spacingAndGlyphs">EUR/CAD</tspan> <tspan x="752" textLength="46.4" lengthAdjust="spacingAndGlyphs">Daily</tspan> <tspan x="803.7" textLength="51.8" lengthAdjust="spacingAndGlyphs">Chart</tspan></text>
<text y="65.4" font-size="20.2" fill="#000" stroke="#000" stroke-width="0.81" stroke-linejoin="round"><tspan x="1105.2" textLength="29.4" lengthAdjust="spacingAndGlyphs">1-2</tspan> <tspan x="1141.2" textLength="32.4" lengthAdjust="spacingAndGlyphs">day</tspan> <tspan x="1179.8" textLength="44.6" lengthAdjust="spacingAndGlyphs">view</tspan></text>
<text x="47" y="649.5" font-size="19.6" fill="#000" stroke="#000" stroke-width="0.78" stroke-linejoin="round" textLength="160.5" lengthAdjust="spacingAndGlyphs">Tension Indicator</text>
<text y="225.4" font-size="19" fill="#1d4687" stroke="#1d4687" stroke-width="0.76" stroke-linejoin="round"><tspan x="480.6" textLength="33.9" lengthAdjust="spacingAndGlyphs">21d</tspan> <tspan x="521.3" textLength="85.2" lengthAdjust="spacingAndGlyphs">weighted</tspan> <tspan x="612.8" textLength="27.8" lengthAdjust="spacingAndGlyphs">MA</tspan></text>
<text y="485.7" font-size="19" fill="#bf9000" stroke="#bf9000" stroke-width="0.76" stroke-linejoin="round"><tspan x="125.5" textLength="45.4" lengthAdjust="spacingAndGlyphs">233d</tspan> <tspan x="178.7" textLength="84.4" lengthAdjust="spacingAndGlyphs">weighted</tspan> <tspan x="269.6" textLength="28.1" lengthAdjust="spacingAndGlyphs">MA</tspan></text>
<text y="409.1" font-size="18" fill="#85155a" stroke="#85155a" stroke-width="0.72" stroke-linejoin="round"><tspan x="489.6" textLength="63" lengthAdjust="spacingAndGlyphs">1.5935</tspan> <tspan x="561.4" textLength="7.1" lengthAdjust="spacingAndGlyphs">-</tspan> <tspan x="574.5" textLength="35.5" lengthAdjust="spacingAndGlyphs">50%</tspan> <tspan x="617.3" textLength="27" lengthAdjust="spacingAndGlyphs">ret</tspan> <tspan x="650.8" textLength="17.8" lengthAdjust="spacingAndGlyphs">of</tspan> <tspan x="675.3" textLength="73.7" lengthAdjust="spacingAndGlyphs">Mar-Apr</tspan> <tspan x="756.8" textLength="39.5" lengthAdjust="spacingAndGlyphs">rally</tspan></text>
<text y="429.5" font-size="18" fill="#85155a" stroke="#85155a" stroke-width="0.72" stroke-linejoin="round"><tspan x="489.6" textLength="63" lengthAdjust="spacingAndGlyphs">1.5855</tspan> <tspan x="561.4" textLength="7.1" lengthAdjust="spacingAndGlyphs">-</tspan> <tspan x="574.5" textLength="54.4" lengthAdjust="spacingAndGlyphs">61.8%</tspan> <tspan x="636.2" textLength="27" lengthAdjust="spacingAndGlyphs">ret</tspan> <tspan x="669.8" textLength="17.8" lengthAdjust="spacingAndGlyphs">of</tspan> <tspan x="694.2" textLength="73.7" lengthAdjust="spacingAndGlyphs">Mar-Apr</tspan> <tspan x="775.7" textLength="39.5" lengthAdjust="spacingAndGlyphs">rally</tspan></text>
<text y="449.4" font-size="18" fill="#85155a" stroke="#85155a" stroke-width="0.72" stroke-linejoin="round"><tspan x="489.6" textLength="63" lengthAdjust="spacingAndGlyphs">1.5765</tspan> <tspan x="561.4" textLength="7.1" lengthAdjust="spacingAndGlyphs">-</tspan> <tspan x="574.5" textLength="54.4" lengthAdjust="spacingAndGlyphs">76.4%</tspan> <tspan x="636.2" textLength="27" lengthAdjust="spacingAndGlyphs">ret</tspan> <tspan x="669.8" textLength="17.8" lengthAdjust="spacingAndGlyphs">of</tspan> <tspan x="694.2" textLength="73.7" lengthAdjust="spacingAndGlyphs">Mar-Apr</tspan> <tspan x="775.7" textLength="39.5" lengthAdjust="spacingAndGlyphs">rally</tspan></text>
<text x="244" y="99.9" font-size="18" fill="#ff0000" stroke="#ff0000" stroke-width="0.72" stroke-linejoin="round" textLength="63.5" lengthAdjust="spacingAndGlyphs">1.6468</text>
<text x="770" y="139.9" font-size="18" fill="#ff0000" stroke="#ff0000" stroke-width="0.72" stroke-linejoin="round" textLength="63.5" lengthAdjust="spacingAndGlyphs">1.6393</text>
<text x="1177.5" y="219.7" font-size="18" fill="#ff0000" stroke="#ff0000" stroke-width="0.72" stroke-linejoin="round" textLength="73.5" lengthAdjust="spacingAndGlyphs">1.6250~</text>
<text x="1013.5" y="579.8" font-size="18" fill="#ff0000" stroke="#ff0000" stroke-width="0.72" stroke-linejoin="round" textLength="94.5" lengthAdjust="spacingAndGlyphs">1.5600/12</text>
<text x="1216" y="394.3" font-size="18" fill="#85155a" stroke="#85155a" stroke-width="0.72" stroke-linejoin="round" textLength="63.5" lengthAdjust="spacingAndGlyphs">1.5935</text>
<text x="1216" y="439.4" font-size="18" fill="#85155a" stroke="#85155a" stroke-width="0.72" stroke-linejoin="round" textLength="63.5" lengthAdjust="spacingAndGlyphs">1.5855</text>
<text x="1208" y="278.1" font-size="23.5" fill="#ff0000" stroke="#ff0000" stroke-width="0.94" stroke-linejoin="round" textLength="79.5" lengthAdjust="spacingAndGlyphs">1.6150</text>
<text x="1208" y="305.4" font-size="23.5" fill="#ff0000" stroke="#ff0000" stroke-width="0.94" stroke-linejoin="round" textLength="79.5" lengthAdjust="spacingAndGlyphs">1.6100</text>
<text x="1208" y="349.3" font-size="23.5" fill="#ff0000" stroke="#ff0000" stroke-width="0.94" stroke-linejoin="round" textLength="79.5" lengthAdjust="spacingAndGlyphs">1.6022</text>
<text x="1208" y="378.9" font-size="23.5" fill="#ff0000" stroke="#ff0000" stroke-width="0.94" stroke-linejoin="round" textLength="79.5" lengthAdjust="spacingAndGlyphs">1.5965</text>
<text x="818.5" y="361.7" font-size="23.5" fill="#ff0000" stroke="#ff0000" stroke-width="0.94" stroke-linejoin="round" textLength="79.5" lengthAdjust="spacingAndGlyphs">1.6000</text>
<path d="M1266.7 60.4H1297M1282.7 45.1L1298 60.4L1282.7 75.7" fill="none" stroke="#7f6000" stroke-width="7.2" stroke-linecap="round" stroke-linejoin="round"/>
<g stroke="#4a4e5e" stroke-width="1" shape-rendering="crispEdges">
<line x1="1329.5" y1="34" x2="1329.5" y2="855"/>
<line x1="13" y1="800.5" x2="1461" y2="800.5"/>
</g>
<line x1="14" y1="619.5" x2="1460" y2="619.5" stroke="#e0e3eb" stroke-width="1" shape-rendering="crispEdges"/>
<text x="1346.9" y="138.6" font-size="24.3" fill="#0c0c0c" stroke="#0c0c0c" stroke-width="0.45" stroke-linejoin="round" textLength="88" lengthAdjust="spacingAndGlyphs">1.64000</text>
<text x="1346.9" y="250.6" font-size="24.3" fill="#0c0c0c" stroke="#0c0c0c" stroke-width="0.45" stroke-linejoin="round" textLength="88" lengthAdjust="spacingAndGlyphs">1.62000</text>
<text x="1346.9" y="362.6" font-size="24.3" fill="#0c0c0c" stroke="#0c0c0c" stroke-width="0.45" stroke-linejoin="round" textLength="88" lengthAdjust="spacingAndGlyphs">1.60000</text>
<text x="1346.9" y="474.6" font-size="24.3" fill="#0c0c0c" stroke="#0c0c0c" stroke-width="0.45" stroke-linejoin="round" textLength="88" lengthAdjust="spacingAndGlyphs">1.58000</text>
<text x="1346.9" y="586.6" font-size="24.3" fill="#0c0c0c" stroke="#0c0c0c" stroke-width="0.45" stroke-linejoin="round" textLength="88" lengthAdjust="spacingAndGlyphs">1.56000</text>
<path d="M1330 248 H1441.5 a2.5 2.5 0 0 1 2.5 2.5 V280.5 a2.5 2.5 0 0 1 -2.5 2.5 H1330 Z" fill="#bf9000"/>
<text x="1346.9" y="274.1" font-size="24.3" fill="#fff" stroke="#fff" stroke-width="0.45" stroke-linejoin="round" textLength="88" lengthAdjust="spacingAndGlyphs">1.61084</text>
<path d="M1330 283 H1441.5 a2.5 2.5 0 0 1 2.5 2.5 V315.5 a2.5 2.5 0 0 1 -2.5 2.5 H1330 Z" fill="#3a3ea8"/>
<text x="1346.9" y="309.1" font-size="24.3" fill="#fff" stroke="#fff" stroke-width="0.45" stroke-linejoin="round" textLength="88" lengthAdjust="spacingAndGlyphs">1.60967</text>
<path d="M1330 320 H1441.5 a2.5 2.5 0 0 1 2.5 2.5 V352.5 a2.5 2.5 0 0 1 -2.5 2.5 H1330 Z" fill="#6aa84f"/>
<text x="1346.9" y="346.1" font-size="24.3" fill="#fff" stroke="#fff" stroke-width="0.45" stroke-linejoin="round" textLength="88" lengthAdjust="spacingAndGlyphs">1.60297</text>
<rect x="1334.2" y="39.2" width="122.6" height="31.7" rx="4.5" fill="#fff" stroke="#f1f1f2" stroke-width="1.6"/>
<text x="1345.2" y="59.6" font-size="15" fill="#0c0c0c" stroke="#0c0c0c" stroke-width="0.30" stroke-linejoin="round" textLength="27.4" lengthAdjust="spacingAndGlyphs">CAD</text>
<text x="92.7" y="832.5" font-size="24.3" fill="#0c0c0c" stroke="#0c0c0c" stroke-width="0.45" stroke-linejoin="round" textLength="38.6" lengthAdjust="spacingAndGlyphs">Oct</text>
<text x="263.2" y="832.5" font-size="24.3" fill="#0c0c0c" stroke="#0c0c0c" stroke-width="0.45" stroke-linejoin="round" textLength="41.6" lengthAdjust="spacingAndGlyphs">Nov</text>
<text x="413.2" y="832.5" font-size="24.3" fill="#0c0c0c" stroke="#0c0c0c" stroke-width="0.45" stroke-linejoin="round" textLength="41.6" lengthAdjust="spacingAndGlyphs">Dec</text>
<text x="571.2" y="832.5" font-size="24.3" fill="#0c0c0c" stroke="#0c0c0c" stroke-width="1.50" stroke-linejoin="round" textLength="56.5" lengthAdjust="spacingAndGlyphs">2026</text>
<text x="736.2" y="832.5" font-size="24.3" fill="#0c0c0c" stroke="#0c0c0c" stroke-width="0.45" stroke-linejoin="round" textLength="40.6" lengthAdjust="spacingAndGlyphs">Feb</text>
<text x="885.7" y="832.5" font-size="24.3" fill="#0c0c0c" stroke="#0c0c0c" stroke-width="0.45" stroke-linejoin="round" textLength="41.6" lengthAdjust="spacingAndGlyphs">Mar</text>
<text x="1052.2" y="832.5" font-size="24.3" fill="#0c0c0c" stroke="#0c0c0c" stroke-width="0.45" stroke-linejoin="round" textLength="38.6" lengthAdjust="spacingAndGlyphs">Apr</text>
<text x="1214.7" y="832.5" font-size="24.3" fill="#0c0c0c" stroke="#0c0c0c" stroke-width="0.45" stroke-linejoin="round" textLength="43.6" lengthAdjust="spacingAndGlyphs">May</text>
<g fill="#131313">
<path d="M15.5 882.5H30.4V901H22.9V889.9H15.5Z"/>
<circle cx="36.4" cy="885.7" r="3.2"/>
<path d="M43.2 882.5H52.9L46 901H37.2Z"/>
</g>
<text x="61.8" y="900.8" font-size="25.4" fill="#131313" font-weight="bold" textLength="151.2" lengthAdjust="spacingAndGlyphs">TradingView</text>
</svg>
</body></html>
